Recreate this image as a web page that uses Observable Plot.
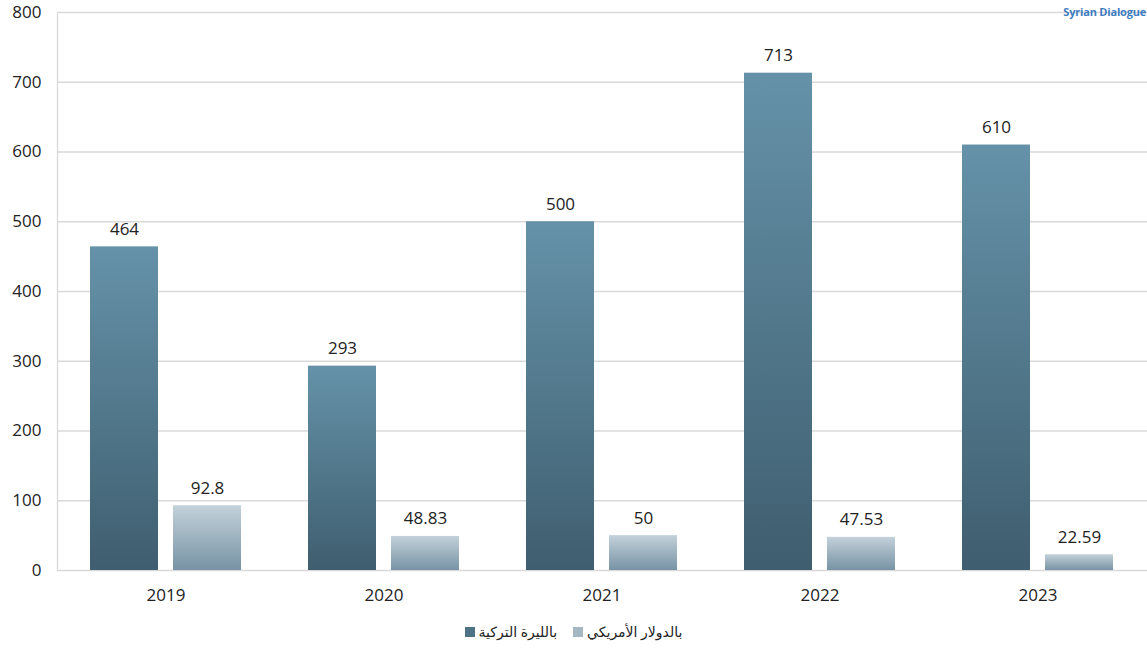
<!DOCTYPE html>
<html><head><meta charset="utf-8">
<script src="https://cdn.jsdelivr.net/npm/d3@7"></script>
<script src="https://cdn.jsdelivr.net/npm/@observablehq/plot@0.6"></script>
<style>
body{margin:0;background:#fff;overflow:hidden;font-family:"Open Sans",sans-serif;}
#wrap{position:relative;width:1147px;height:651px;overflow:hidden;}
#chart{position:absolute;left:0;top:0;}
#logo{position:absolute;right:1px;top:4px;font-size:11px;font-weight:bold;color:#3d7cc0;white-space:nowrap;font-family:"Open Sans",sans-serif;letter-spacing:-0.2px;}
#legend{position:absolute;top:622px;left:0;width:1147px;display:flex;justify-content:center;align-items:center;font-size:14px;color:#222;font-family:"Noto Sans","DejaVu Sans",sans-serif;}
.sw{display:inline-block;width:10px;height:10px;margin-right:4px;}
.item{display:flex;align-items:center;margin:0 8px;}
</style>
</head><body>
<div id="wrap">
  <div id="chart"></div>
  <div id="logo">Syrian Dialogue</div>
  <div id="legend"></div>
</div>
<script>
const years = ["2019", "2020", "2021", "2022", "2023"];
const tryValues = [464, 293, 500, 713, 610];
const usdValues = [92.8, 48.83, 50, 47.53, 22.59];
const seriesNames = ["بالليرة التركية", "بالدولار الأمريكي"];
const yTicks = [0, 100, 200, 300, 400, 500, 600, 700, 800];

const data = years.map((year, i) => ({year, tryV: tryValues[i], usdV: usdValues[i]}));

const defs = () => {
  const d = d3.create("svg:defs");
  const g1 = d.append("linearGradient").attr("id", "gDark").attr("x1", 0).attr("y1", 0).attr("x2", 0).attr("y2", 1);
  g1.append("stop").attr("offset", "0%").attr("stop-color", "#6592a9");
  g1.append("stop").attr("offset", "100%").attr("stop-color", "#3f5e6f");
  const g2 = d.append("linearGradient").attr("id", "gLight").attr("x1", 0).attr("y1", 0).attr("x2", 0).attr("y2", 1);
  g2.append("stop").attr("offset", "0%").attr("stop-color", "#c3d1da");
  g2.append("stop").attr("offset", "100%").attr("stop-color", "#7793a4");
  return d.node();
};

const chart = Plot.plot({
  width: 1147,
  height: 615,
  marginTop: 12,
  marginLeft: 57,
  marginRight: 0,
  marginBottom: 45,
  style: {background: "transparent", fontSize: "17px", fontFamily: "'Open Sans', sans-serif", color: "#222"},
  x: {domain: years, paddingInner: 67 / 218, paddingOuter: 67 / 436, label: null},
  y: {domain: [0, 800], label: null},
  marks: [
    defs,
    Plot.gridY(yTicks, {stroke: "#d9d9d9", strokeOpacity: 1, strokeWidth: 1.3}),
    Plot.frame({anchor: "left", stroke: "#d9d9d9", strokeWidth: 1.3}),
    Plot.barY(data, {x: "year", y: "tryV", fill: "url(#gDark)", insetRight: 83}),
    Plot.barY(data, {x: "year", y: "usdV", fill: "url(#gLight)", insetLeft: 83}),
    Plot.text(data, {x: "year", y: "tryV", text: d => String(d.tryV), dx: -41.5, dy: -12, lineAnchor: "bottom", fill: "#222", fontSize: 17}),
    Plot.text(data, {x: "year", y: "usdV", text: d => String(d.usdV), dx: 41.5, dy: -12, lineAnchor: "bottom", fill: "#222", fontSize: 17}),
    Plot.axisY({ticks: yTicks, tickSize: 0, tickPadding: 16, fontSize: 17, label: null}),
    Plot.axisX({tickSize: 0, tickPadding: 18, fontSize: 17, label: null})
  ]
});
document.getElementById("chart").appendChild(chart);

const legend = document.getElementById("legend");
const swatches = ["#4f7386", "#a4b7c3"];
seriesNames.forEach((name, i) => {
  const item = document.createElement("div");
  item.className = "item";
  const sw = document.createElement("span");
  sw.className = "sw"; sw.style.background = swatches[i];
  const t = document.createElement("span");
  t.textContent = name; t.dir = "rtl";
  item.appendChild(sw); item.appendChild(t);
  legend.appendChild(item);
});
</script>
</body></html>
